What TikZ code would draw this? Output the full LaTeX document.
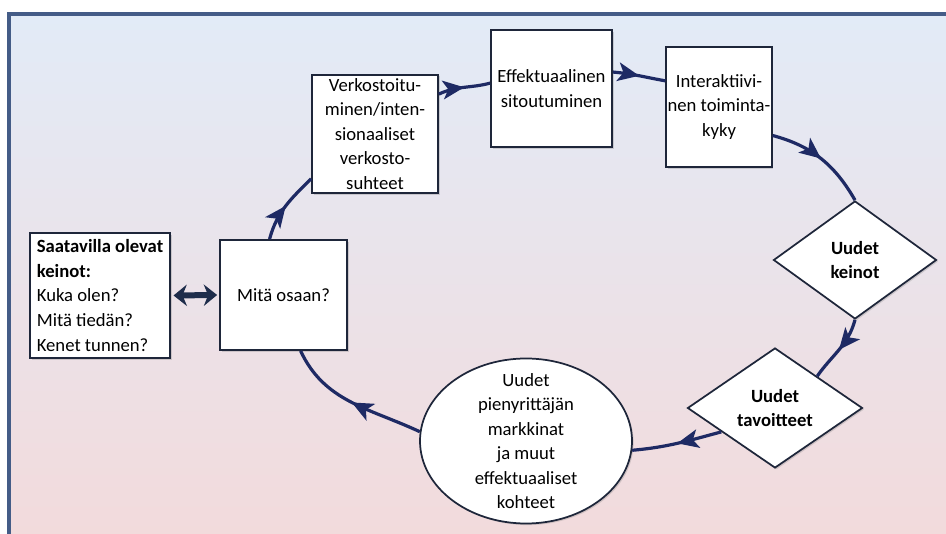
\documentclass[tikz,border=0pt]{standalone}
\usepackage{fontspec}
\setmainfont{Carlito}
\usetikzlibrary{arrows.meta,shapes.geometric,decorations.markings,shadows}
\definecolor{navy}{RGB}{30,42,100}
\definecolor{darknavy}{RGB}{30,45,75}
\definecolor{boxline}{RGB}{30,38,58}
\definecolor{frameblue}{RGB}{68,92,135}
\definecolor{bgtop}{RGB}{226,235,247}
\definecolor{bgbot}{RGB}{243,218,219}
\begin{document}
\begin{tikzpicture}[x=0.75pt,y=0.75pt,
    box/.style={draw=boxline, line width=1.3pt, fill=white, inner sep=1pt, align=center,
      font=\fontsize{14}{18.4}\selectfont,
      drop shadow={shadow xshift=1.2pt, shadow yshift=-1.2pt, opacity=0.3}},
    choice/.style={box, diamond, aspect=1.5, font=\bfseries\fontsize{14}{18.4}\selectfont},
    flow/.style={color=navy, line width=2.4pt, postaction={decorate},
      decoration={markings, mark=at position 0.5 with {\arrow{Stealth[length=16pt,width=14pt,inset=4pt]}}}}]
    \clip (0,0) rectangle (946,534);
    \fill[white] (0,0) rectangle (946,534);
    \shade[top color=bgtop, bottom color=bgbot] (9,-20) rectangle (960,520);
    \draw[frameblue, line width=2.3pt] (9,-20) rectangle (960,520);

    \node[box, minimum width=105pt, minimum height=93.75pt, align=left] (keinot) at (100,238.5)
        {\textbf{Saatavilla olevat}\\\textbf{keinot:}\\Kuka olen?\\Mitä tiedän?\\Kenet tunnen?};
    \node[box, minimum width=95.25pt, minimum height=82.5pt] (osaan) at (283.5,239) {Mitä osaan?};
    \node[box, minimum width=94.5pt, minimum height=89pt] (verkosto) at (375,400)
        {Verkostoitu-\\minen/inten-\\sionaaliset\\verkosto-\\suhteet};
    \node[box, minimum width=90.75pt, minimum height=87.75pt] (effekt) at (551.5,445.5)
        {Effektuaalinen\\sitoutuminen};
    \node[box, minimum width=78pt, minimum height=90pt] (interakt) at (719,427)
        {Interaktiivi-\\nen toiminta-\\kyky};
    \node[choice, minimum width=122.25pt, minimum height=88.5pt] (ukeinot) at (855,274) {Uudet\\keinot};
    \node[choice, minimum width=131.25pt, minimum height=90pt] (utavoit) at (775,126) {Uudet\\tavoitteet};
    \node[box, ellipse, minimum width=159pt, minimum height=123.75pt, inner sep=-10pt] (markkinat) at (526,93)
        {Uudet\\pienyrittäjän\\markkinat\\ja muut\\effektuaaliset\\kohteet};

    \draw[flow] (osaan.104) to[out=75,in=225] (verkosto.215);
    \draw[flow] (verkosto.32) to[out=25,in=195] (effekt.175);
    \draw[flow] (effekt.15) to[out=-5,in=170] (interakt.154);
    \draw[flow] (interakt.-28) to[out=-15,in=120] (ukeinot.north);
    \draw[flow] (ukeinot.south) to[out=-105,in=55] (utavoit.37);
    \draw[flow] (utavoit.204) to[out=195,in=5] (markkinat.-5);
    \draw[flow] (markkinat.175) to[out=155,in=-65] (osaan.-73);
    \draw[darknavy, line width=4.5pt, {Stealth[length=10pt,width=16pt]}-{Stealth[length=10pt,width=16pt]}]
        ([xshift=2pt]keinot.east) -- ([xshift=-1.5pt]osaan.west);
\end{tikzpicture}
\end{document}
